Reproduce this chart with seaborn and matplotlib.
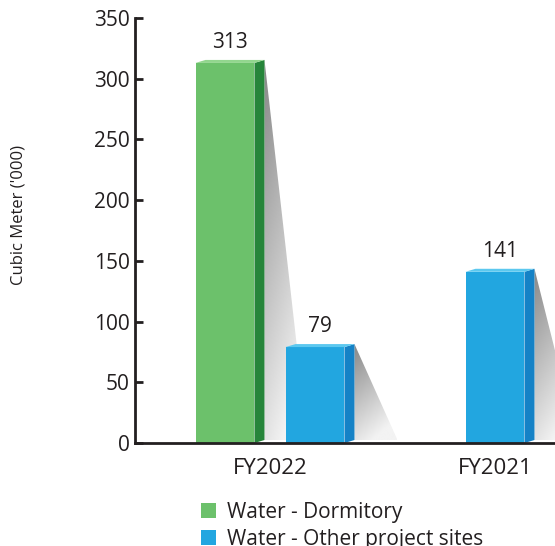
import numpy as np
import pandas as pd
import matplotlib
matplotlib.use("Agg")
import matplotlib.pyplot as plt
from matplotlib.patches import Polygon, Patch
import seaborn as sns

# ---- data -------------------------------------------------------------
years = ["FY2022", "FY2021"]
series = ["Water - Dormitory", "Water - Other project sites"]
dormitory = [313, None]          # no dormitory figure reported for FY2021
other_sites = [79, 141]

front_colors = {series[0]: "#6cc16b", series[1]: "#22a6e0"}
side_colors = {series[0]: "#26853a", series[1]: "#1582c6"}
top_colors = {series[0]: "#92d68e", series[1]: "#5cc8ef"}
text_color = "#231f20"

# ---- long table, bars of a year placed side by side around its index --
rows = []
for i, year in enumerate(years):
    present = [(s, v) for s, v in zip(series, (dormitory[i], other_sites[i])) if v is not None]
    n = len(present)
    for k, (s, v) in enumerate(present):
        pos = i + (k - (n - 1) / 2) * 0.4
        rows.append({"year": year, "series": s, "pos": pos, "value": v})
df = pd.DataFrame(rows)

# ---- figure -----------------------------------------------------------
sns.set_theme(style="white")
plt.rcParams["font.family"] = ["Open Sans", "DejaVu Sans"]

W, H = 555, 546
fig = plt.figure(figsize=(W / 100, H / 100), dpi=100)
ax_left, ax_right, ax_top, ax_bottom = 135, 640, 18, 443
ax = fig.add_axes([ax_left / W, (H - ax_bottom) / H,
                   (ax_right - ax_left) / W, (ax_bottom - ax_top) / H])

unit_px = 225.0
x0_px = 270.0
xlim = ((ax_left - x0_px) / unit_px, (ax_right - x0_px) / unit_px)
ylim = (0, 350)

sns.barplot(data=df, x="pos", y="value", hue="series", palette=front_colors,
            native_scale=True, dodge=False, width=0.655, linewidth=0,
            saturation=1, legend=False, ax=ax, errorbar=None)

px_x = 1 / unit_px
px_y = (ylim[1] - ylim[0]) / (ax_bottom - ax_top)
dx, dy = 10 * px_x, 3 * px_y
shadow_w = 43 * px_x

for patch in list(ax.patches):
    bx, bw, bh = patch.get_x(), patch.get_width(), patch.get_height()
    if bh <= 0 or np.isnan(bh):
        continue
    cx = bx + bw / 2
    row = df.iloc[(df["pos"] - cx).abs().argmin()]
    s = row["series"]
    patch.set_zorder(3)

    # side face
    side = Polygon([(bx + bw, 0), (bx + bw + dx, dy), (bx + bw + dx, bh + dy), (bx + bw, bh)],
                   closed=True, facecolor=side_colors[s], edgecolor="none", zorder=3)
    ax.add_patch(side)
    # top face
    top = Polygon([(bx, bh), (bx + dx, bh + dy), (bx + bw + dx, bh + dy), (bx + bw, bh)],
                  closed=True, facecolor=top_colors[s], edgecolor="none", zorder=3)
    ax.add_patch(top)

    # cast shadow with a gradient fill
    xs = bx + bw + dx
    ytop = bh + dy
    shadow = Polygon([(xs, ytop), (xs + shadow_w, dy), (xs, dy)], closed=True,
                     facecolor="none", edgecolor="none")
    ax.add_patch(shadow)
    ny, nx = 200, 60
    yy = np.linspace(1, 0, ny)[:, None]     # 1 at top row
    xx = np.linspace(0, 1, nx)[None, :]
    grad = 0.53 + 0.36 * (1 - yy) + 0.14 * xx
    grad = np.clip(grad, 0, 0.95)
    im = ax.imshow(grad, cmap="gray", vmin=0, vmax=1, aspect="auto",
                   extent=[xs, xs + shadow_w, dy, ytop], zorder=1,
                   interpolation="bilinear")
    im.set_clip_path(shadow)

    # value label
    ax.annotate(f"{int(row['value'])}", xy=(bx + (bw + dx) / 2, ytop),
                xytext=(0, 5), textcoords="offset points",
                ha="center", va="bottom", fontsize=15, color=text_color, zorder=5)

ax.set_xlim(*xlim)
ax.set_ylim(*ylim)

# ---- axes styling -----------------------------------------------------
ax.set_xticks(range(len(years)), labels=years)
ax.set_yticks(np.arange(0, 351, 50))
ax.set_xlabel("")
ax.set_ylabel("")
for side_name in ("top", "right"):
    ax.spines[side_name].set_visible(False)
for side_name in ("left", "bottom"):
    ax.spines[side_name].set_color(text_color)
    ax.spines[side_name].set_linewidth(2.0)
    ax.spines[side_name].set_zorder(4)
ax.tick_params(axis="y", direction="in", length=6, width=2, color=text_color,
               labelsize=15, labelcolor=text_color, pad=4, left=True)
ax.tick_params(axis="x", length=0, labelsize=16, labelcolor=text_color, pad=11)
ax.grid(False)

fig.text(19 / W, 1 - 215 / H, "Cubic Meter ('000)", rotation=90,
         ha="center", va="center", fontsize=12, color=text_color)

handles = [Patch(facecolor=front_colors[s], edgecolor="none") for s in series]
fig.legend(handles, series, loc="upper left", bbox_to_anchor=(201 / W, 1 - 502 / H),
           frameon=False, fontsize=15, handlelength=0.7, handleheight=0.7,
           handletextpad=0.55, labelspacing=0.28, borderpad=0, borderaxespad=0,
           labelcolor=text_color)

fig.savefig("out.png", dpi=100)
